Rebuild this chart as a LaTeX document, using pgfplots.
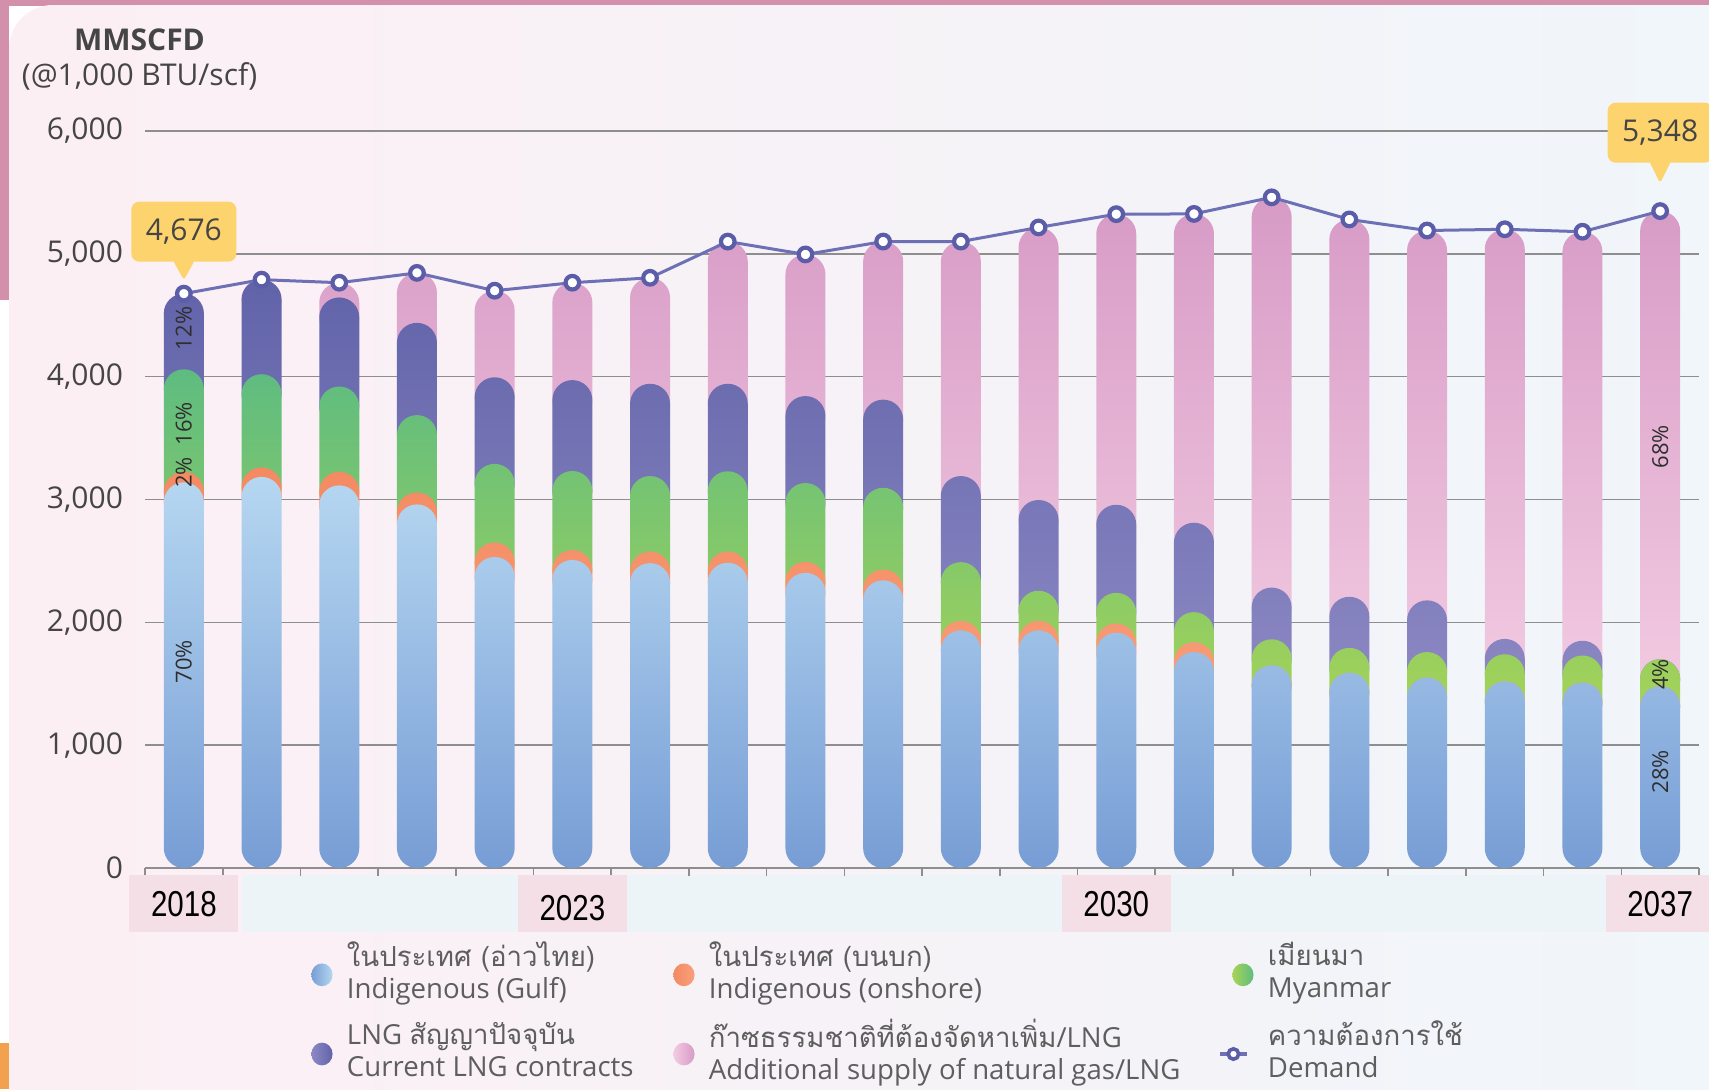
\documentclass[border=0pt]{standalone}
\usepackage{pgfplots}
\pgfplotsset{compat=1.18}
\usepackage{pgfplotstable}
\usepackage{fontspec}
\setmainfont{Open Sans}
\newfontfamily\thaifont[Script=Thai]{Loma}
\newfontfamily\narrowfont[FakeStretch=0.82]{Liberation Sans}

\definecolor{gulfT}{HTML}{B6D7F1}
\definecolor{gulfB}{HTML}{779DD5}
\definecolor{onshT}{HTML}{F48A62}
\definecolor{onshB}{HTML}{F8A07C}
\definecolor{myaT}{HTML}{5EBC80}
\definecolor{myaB}{HTML}{A8D456}
\definecolor{lngT}{HTML}{6163A9}
\definecolor{lngB}{HTML}{8D89C4}
\definecolor{addT}{HTML}{D79BC6}
\definecolor{addB}{HTML}{F3CBE2}
\definecolor{dem}{HTML}{6E70B6}
\definecolor{demM}{HTML}{5B5DA8}
\definecolor{callout}{HTML}{FDD36D}
\definecolor{gridc}{HTML}{8E8E8E}
\definecolor{yearbox}{HTML}{F4DFE7}
\definecolor{band}{HTML}{EDF4F8}
\definecolor{panelL}{HTML}{FCEFF4}
\definecolor{panelR}{HTML}{F0F6FA}
\definecolor{frame}{HTML}{D390AA}
\definecolor{orangeb}{HTML}{F2A24E}
\definecolor{txt}{HTML}{454545}
\definecolor{legtxt}{HTML}{5E5E5E}
\definecolor{pct}{HTML}{2E2E2E}

% values in MMSCFD, one row per year (x index i = 0..19)
\pgfplotstableread{
i year gulf onshore myanmar lng add demand
0 2018 3140 85 835 616 0 4676
1 2019 3184 77 759 770 0 4790
2 2020 3115 110 695 725 120 4765
3 2021 2960 97 630 751 407 4845
4 2022 2532 118 640 705 705 4700
5 2023 2508 80 644 740 793 4765
6 2024 2482 94 615 751 863 4805
7 2025 2485 91 654 712 1158 5100
8 2026 2403 89 642 708 1153 4995
9 2027 2342 88 665 718 1287 5100
10 2028 1934 78 478 701 1909 5100
11 2029 1934 78 245 739 2219 5215
12 2030 1915 75 250 717 2366 5323
13 2031 1758 80 245 728 2514 5325
14 2032 1650 0 212 421 3177 5460
15 2033 1590 0 202 416 3072 5280
16 2034 1550 0 208 421 3011 5190
17 2035 1520 0 220 125 3335 5200
18 2036 1510 0 220 120 3330 5180
19 2037 1480 0 220 0 3648 5348
}\gasdata

\pgfplotsset{
  base/.style={
    at={(72.5pt,-434pt)}, anchor=south west,
    scale only axis, width=777pt, height=368.5pt,
    xmin=-0.5, xmax=19.5, ymin=0, ymax=6000,
    clip=false,
  },
  layer/.style={base, hide axis, ybar stacked, bar width=20pt},
  vis/.style={draw=none, rounded corners=9.95pt},
}
\newcommand\legtext[3]{\makebox[#1][l]{\begin{tabular}{@{}l@{}}#2\\#3\end{tabular}}}
\newcommand\legbox{\pgfpathrectangle{\pgfpoint{0pt}{-6pt}}{\pgfpoint{16.75pt}{12pt}}\pgfusepath{use as bounding box}}
\newcommand\legdot[2]{\legbox\shade[draw=none, left color=#1, right color=#2] (4.25pt,0pt) ellipse [x radius=5.3pt, y radius=5.7pt];}

\begin{document}
\begin{tikzpicture}
\useasboundingbox (0,0) rectangle (854.5pt,-544.5pt);
\begin{scope}[x=0.5pt,y=-0.5pt]
  \fill[white] (0,0) rectangle (1709,1089);
  \fill[frame] (0,0) rectangle (1709,6);
  \fill[frame] (0,0) rectangle (9,300);
  \fill[orangeb] (0,1043) rectangle (10,1089);
  \shade[left color=panelL, right color=panelR, rounded corners=22pt] (9,5) rectangle (1760,1140);
  \fill[band] (242,875) rectangle (1609,932);
  \node[font=\bfseries\fontsize{15}{18}\selectfont, text=txt] at (139.5,40) {MMSCFD};
  \node[font=\fontsize{15}{18}\selectfont, text=txt] at (139.5,76) {(@1,000 BTU/scf)};
\end{scope}

% grid, axis line, ticks and labels
\begin{axis}[base,
  axis line style={draw=none},
  ytick={0,1000,...,6000},
  ymajorgrids, major grid style={gridc, line width=0.8pt},
  major tick length=0pt,
  tick pos=left, tick align=outside,
  xtick={0,5,12,19}, xticklabels={2018,\raisebox{-2pt}[\height][0pt]{2023},2030,2037},
  minor xtick={-0.5,0.5,...,19.5},
  minor tick length=4pt,
  minor tick style={gridc, line width=0.8pt},
  scaled y ticks=false,
  /pgf/number format/assume math mode=true,
  yticklabel style={font=\fontsize{15}{18}\selectfont, text=txt, xshift=-7.5pt},
  xticklabel style={font=\narrowfont\fontsize{18}{20}\selectfont, text=black,
    fill=yearbox, minimum width=54.5pt, minimum height=28.5pt, inner sep=0pt,
    anchor=north, yshift=-3.5pt},
]
\addplot[draw=none, forget plot] table[x=i, y=demand] {\gasdata};
\end{axis}

% additional supply / LNG
\begin{axis}[layer]
\addplot[draw=none] table[x=i, y expr=\thisrow{gulf}+\thisrow{onshore}+\thisrow{myanmar}+\thisrow{lng}-326] {\gasdata};
\addplot[vis, top color=addT, bottom color=addB] table[x=i, y expr=\thisrow{add}+326] {\gasdata};
\end{axis}

% current LNG contracts
\begin{axis}[layer]
\addplot[draw=none] table[x=i, y expr=\thisrow{gulf}+\thisrow{onshore}+\thisrow{myanmar}-326] {\gasdata};
\addplot[vis, top color=lngT, bottom color=lngB] table[x=i, y expr=\thisrow{lng}+326] {\gasdata};
\end{axis}

% Myanmar
\begin{axis}[layer]
\addplot[draw=none] table[x=i, y expr=\thisrow{gulf}+\thisrow{onshore}-326] {\gasdata};
\addplot[vis, top color=myaT, bottom color=myaB] table[x=i, y expr=\thisrow{myanmar}+326] {\gasdata};
\end{axis}

% onshore
\begin{axis}[layer]
\addplot[draw=none] table[x=i, y expr=\thisrow{gulf}-326] {\gasdata};
\addplot[vis, top color=onshT, bottom color=onshB] table[x=i, y expr=\thisrow{onshore}+326] {\gasdata};
\end{axis}

% Gulf
\begin{axis}[layer]
\addplot[vis, top color=gulfT, bottom color=gulfB] table[x=i, y=gulf] {\gasdata};
\end{axis}

% demand, labels, legend
\begin{axis}[base, hide axis,
  legend columns=3,
  legend cell align=left,
  legend style={at={(0.1084,-0.0999)}, anchor=north west, draw=none, fill=none,
    inner sep=0pt, outer sep=0pt, column sep=0pt, row sep=5.5pt,
    font=\fontsize{13.8}{16}\selectfont,
    nodes={inner sep=0pt, text depth=, text=legtxt}},
]
\addlegendimage{draw=none, legend image code/.code={\legdot{gulfB}{gulfT}}}
\addlegendentry{\legtext{164.25pt}{\thaifont ในประเทศ (อ่าวไทย)}{Indigenous (Gulf)}}
\addlegendimage{draw=none, legend image code/.code={\legdot{onshT}{onshB}}}
\addlegendentry{\legtext{262.75pt}{\thaifont ในประเทศ (บนบก)}{Indigenous (onshore)}}
\addlegendimage{draw=none, legend image code/.code={\legdot{myaB}{myaT}}}
\addlegendentry{\legtext{120pt}{\thaifont เมียนมา}{Myanmar}}
\addlegendimage{draw=none, legend image code/.code={\legdot{lngB}{lngT}}}
\addlegendentry{\legtext{164.25pt}{LNG {\thaifont สัญญาปัจจุบัน}}{Current LNG contracts}}
\addlegendimage{draw=none, legend image code/.code={\legdot{addB}{addT}}}
\addlegendentry{\legtext{262.75pt}{{\thaifont ก๊าซธรรมชาติที่ต้องจัดหาเพิ่ม}/LNG}{Additional supply of natural gas/LNG}}
\addlegendimage{draw=none, legend image code/.code={\legbox
  \draw[dem, line width=1.8pt] (-7pt,0pt) -- (6.5pt,0pt);
  \draw[demM, fill=white, line width=1.8pt] (-0.5pt,0pt) circle (2.6pt);}}
\addlegendentry{\legtext{120pt}{\thaifont ความต้องการใช้}{Demand}}

\addplot[dem, line width=1.5pt, mark=*, mark size=3.4pt,
  mark options={fill=white, draw=demM, line width=2.1pt}, forget plot]
  table[x=i, y=demand] {\gasdata};

% share labels
\begin{scope}[every node/.style={rotate=90, font=\fontsize{11}{13}\selectfont, text=pct, inner sep=0pt}]
\node at (axis cs:0,1681) {70\%};
\node at (axis cs:0,3219) {2\%};
\node at (axis cs:0,3618) {16\%};
\node at (axis cs:0,4392) {12\%};
\node at (axis cs:19,783) {28\%};
\node at (axis cs:19,1575) {4\%};
\node at (axis cs:19,3429) {68\%};
\end{scope}

% value callouts
\node[fill=callout, rounded corners=4pt, minimum width=52.5pt, minimum height=30pt, inner sep=0pt,
  font=\fontsize{15}{18}\selectfont, text=txt, anchor=south] (c1) at ([yshift=15.8pt]axis cs:0,4676) {4,676};
\fill[callout, rounded corners=1.5pt] ([xshift=-5.5pt,yshift=1pt]c1.south) -- ([xshift=5.5pt,yshift=1pt]c1.south) -- ([yshift=-9pt]c1.south) -- cycle;
\node[fill=callout, rounded corners=4pt, minimum width=52.5pt, minimum height=30pt, inner sep=0pt,
  font=\fontsize{15}{18}\selectfont, text=txt, anchor=south] (c2) at ([yshift=24pt]axis cs:19,5348) {5,348};
\fill[callout, rounded corners=1.5pt] ([xshift=-5.5pt,yshift=1pt]c2.south) -- ([xshift=5.5pt,yshift=1pt]c2.south) -- ([yshift=-10pt]c2.south) -- cycle;
\end{axis}
\end{tikzpicture}
\end{document}
